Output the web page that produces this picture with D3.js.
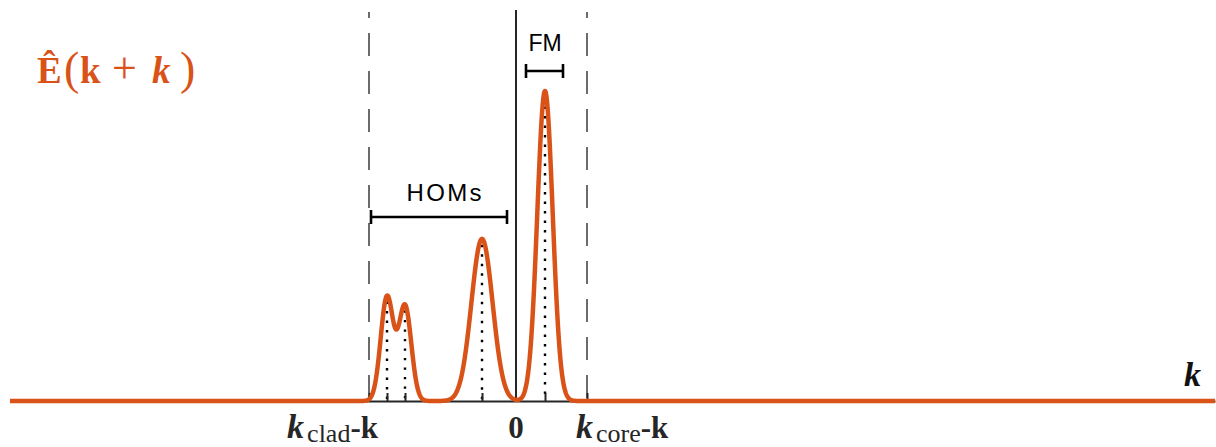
<html>
<head>
    <title>mode spectrum</title>
    <style>
        body { margin: 0; background: #fff; }
        .serif { font-family: "Liberation Serif", "DejaVu Serif", serif; }
        .sans { font-family: "Liberation Sans", Arial, sans-serif; }
        .axis path, .axis line { stroke: #262626; stroke-width: 2px; }
        .spectrum { fill: none; stroke: #D95319; stroke-width: 4.5px; stroke-linejoin: round; }
    </style>
</head>
<body>
    <div id="container"></div>
    <script src="https://cdnjs.cloudflare.com/ajax/libs/d3/7.8.5/d3.min.js"></script>
    <script>
        // mode positions relative to k (units of the k axis)
        let modeNames = ['HOM1', 'HOM2', 'HOM3', 'FM'],
            modePos = [-1.29, -1.11, -0.34, 0.29],
            modeAmp = [0.335, 0.306, 0.523, 1.0],
            modeWidth = [0.063, 0.063, 0.106, 0.077];

        let kClad = -1.47,
            kCore = 0.71,
            kRange = [-5.06, 6.99];

        let width = 1216,
            height = 447;

        let svg = d3.select('#container')
            .append('svg')
            .attr('width', width)
            .attr('height', height);

        let x = d3.scaleLinear().domain(kRange).range([10, 1215]),
            y = d3.scaleLinear().domain([0, 1]).range([401, 91]);

        function spectrum(k) {
            let s = 0;
            for (let i = 0; i < modePos.length; i++) {
                let u = (k - modePos[i]) / modeWidth[i];
                s += modeAmp[i] * Math.exp(-0.5 * u * u);
            }
            return s;
        }

        // dashed boundaries k_clad - k and k_core - k
        svg.selectAll('.bound')
            .data([kClad, kCore])
            .enter().append('line')
            .attr('class', 'bound')
            .attr('x1', d => x(d)).attr('x2', d => x(d))
            .attr('y1', 12).attr('y2', y(0))
            .attr('stroke', '#6b6b6b')
            .attr('stroke-width', 2)
            .attr('stroke-dasharray', '23,15')
            .attr('stroke-dashoffset', 17);

        // zero line
        svg.append('line')
            .attr('x1', x(0)).attr('x2', x(0))
            .attr('y1', 10).attr('y2', y(0))
            .attr('stroke', '#262626')
            .attr('stroke-width', 2);

        // dotted lines under the peaks
        svg.selectAll('.dots')
            .data(modePos)
            .enter().append('line')
            .attr('class', 'dots')
            .attr('x1', d => x(d)).attr('x2', d => x(d))
            .attr('y1', d => y(spectrum(d)) + 6).attr('y2', y(0))
            .attr('stroke', '#000')
            .attr('stroke-width', 2.4)
            .attr('stroke-dasharray', '2.4,7.1');

        // axis with upward ticks
        svg.append('g')
            .attr('class', 'axis')
            .attr('transform', 'translate(0,' + y(0) + ')')
            .call(d3.axisBottom(x)
                .tickValues([kClad].concat(modePos, [kCore]))
                .tickSizeInner(-8)
                .tickSizeOuter(0)
                .tickFormat(''));

        // the field curve
        let samples = d3.range(kRange[0], kRange[1] + 0.0025, 0.0025);
        let line = d3.line()
            .x(d => x(d))
            .y(d => y(spectrum(d)));
        svg.append('path')
            .datum(samples)
            .attr('class', 'spectrum')
            .attr('d', line);

        // brackets
        function bracket(x1, x2, yy) {
            let g = svg.append('g').attr('stroke', '#000').attr('stroke-width', 2.6);
            g.append('line').attr('x1', x1).attr('x2', x2).attr('y1', yy).attr('y2', yy);
            g.append('line').attr('x1', x1).attr('x2', x1).attr('y1', yy - 7).attr('y2', yy + 7);
            g.append('line').attr('x1', x2).attr('x2', x2).attr('y1', yy - 7).attr('y2', yy + 7);
        }
        bracket(x(kClad) + 2, x(0) - 9, 217);
        bracket(x(0.1), x(0.47), 71);

        svg.append('text').attr('class', 'sans')
            .attr('x', 444).attr('y', 201)
            .attr('text-anchor', 'middle')
            .style('font-size', '24px')
            .attr('textLength', 75)
            .text('HOMs');

        svg.append('text').attr('class', 'sans')
            .attr('x', x(0.29)).attr('y', 51)
            .attr('text-anchor', 'middle')
            .style('font-size', '23px')
            .text('FM');

        // title
        let title = svg.append('text').attr('class', 'serif')
            .attr('y', 83)
            .attr('fill', '#D95319')
            .style('font-size', '37px')
            .style('font-weight', 'bold');
        title.append('tspan').attr('x', 37).text('Ê');
        title.append('tspan').attr('x', 64).attr('y', 84).style('font-weight', 'normal').style('font-size', '46px').text('(');
        title.append('tspan').attr('x', 80).attr('y', 83).text('k');
        title.append('tspan').attr('x', 112).style('font-weight', 'normal').style('font-size', '44px').text('+');
        title.append('tspan').attr('x', 152).style('font-style', 'italic').text('k');
        title.append('tspan').attr('x', 180).attr('y', 84).style('font-weight', 'normal').style('font-size', '46px').text(')');

        // axis variable
        svg.append('text').attr('class', 'serif')
            .attr('x', 1201).attr('y', 386)
            .attr('text-anchor', 'end')
            .attr('fill', '#111')
            .style('font-size', '34px')
            .style('font-weight', 'bold')
            .style('font-style', 'italic')
            .text('k');

        // bottom labels
        function kLabel(xx, anchor, sub) {
            let t = svg.append('text').attr('class', 'serif')
                .attr('x', xx).attr('y', 438)
                .attr('text-anchor', anchor)
                .attr('fill', '#262626')
                .style('font-size', '31px')
                .style('font-weight', 'bold');
            t.append('tspan').style('font-style', 'italic').style('font-size', '34px').text('k');
            t.append('tspan').attr('dx', 3).attr('dy', 4).style('font-size', '26px').style('font-weight', 'normal').text(sub);
            t.append('tspan').attr('dy', -4).text('-k');
        }
        kLabel(x(kClad) + 9, 'end', 'clad');
        kLabel(x(kCore) - 11, 'start', 'core');

        svg.append('text').attr('class', 'serif')
            .attr('x', x(0)).attr('y', 438)
            .attr('text-anchor', 'middle')
            .attr('fill', '#262626')
            .style('font-size', '31px')
            .style('font-weight', 'bold')
            .text('0');
    </script>
</body>
</html>
